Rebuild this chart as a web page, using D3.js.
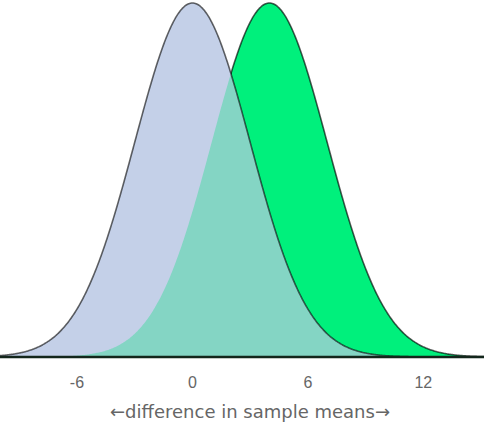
<!DOCTYPE html>
<html>
<head>
<meta charset="utf-8">
<script src="https://cdn.jsdelivr.net/npm/d3@7"></script>
<style>
    body { margin: 0; background: #fff; }
    svg { display: block; }
    .tick-label { font-family: "Liberation Sans", Arial, sans-serif; font-size: 16px; fill: #666; }
    .axis-title { font-family: "DejaVu Sans", Verdana, sans-serif; font-size: 18px; fill: #666; }
</style>
</head>
<body>
<svg id="chart" width="484" height="430"></svg>
<script>
// Distribution parameters.
let groupNames = ['null', 'alternative'];
let groupMeans = [0, 4];
let groupSd = [3, 3];
let groupFills = ['#c4d0e8', '#00f07c'];
let overlapFill = '#84d5c4';

// Axis ticks and title.
let tickValues = [-6, 0, 6, 12];
let axisTitle = '\u2190difference in sample means\u2192';

let width = 484, height = 430;
let baseY = 357;

let xScale = d3.scaleLinear()
    .domain([-10, 15.15])
    .range([0, width]);

let peak = 1 / (groupSd[0] * Math.sqrt(2 * Math.PI));
let yScale = d3.scaleLinear()
    .domain([0, peak])
    .range([baseY, 3]);

// Normal density for group i.
function density(i, x) {
    let z = (x - groupMeans[i]) / groupSd[i];
    return Math.exp(-0.5 * z * z) / (groupSd[i] * Math.sqrt(2 * Math.PI));
}

let xs = d3.range(-10, 15.2, 0.05);

let area = d3.area()
    .x(d => xScale(d.x))
    .y0(baseY)
    .y1(d => yScale(d.y))
    .curve(d3.curveBasis);

let line = d3.line()
    .x(d => xScale(d.x))
    .y(d => yScale(d.y))
    .curve(d3.curveBasis);

let curves = groupNames.map((name, i) => xs.map(x => ({x: x, y: density(i, x)})));
let overlap = xs.map(x => ({x: x, y: Math.min(density(0, x), density(1, x))}));

let svg = d3.select('#chart');

// Alternative (green) first, with its outline.
svg.append('path')
    .attr('d', area(curves[1]))
    .attr('fill', groupFills[1]);
svg.append('path')
    .attr('d', line(curves[1]))
    .attr('fill', 'none')
    .attr('stroke', 'rgba(0,0,0,0.65)')
    .attr('stroke-width', 1.6);

// Null (blue) on top, then the shared region.
svg.append('path')
    .attr('d', area(curves[0]))
    .attr('fill', groupFills[0]);
svg.append('path')
    .attr('d', area(overlap))
    .attr('fill', overlapFill);
svg.append('path')
    .attr('d', line(curves[0]))
    .attr('fill', 'none')
    .attr('stroke', 'rgba(0,0,0,0.6)')
    .attr('stroke-width', 1.6);

// Baseline.
svg.append('line')
    .attr('x1', 0)
    .attr('x2', width)
    .attr('y1', baseY)
    .attr('y2', baseY)
    .attr('stroke', '#13261b')
    .attr('stroke-width', 2.5);

// Tick labels.
svg.append('g')
    .selectAll('text')
    .data(tickValues)
    .join('text')
    .attr('class', 'tick-label')
    .attr('x', d => xScale(d))
    .attr('y', 388)
    .attr('text-anchor', 'middle')
    .text(d => d);

svg.append('text')
    .attr('class', 'axis-title')
    .attr('x', 250)
    .attr('y', 418)
    .attr('text-anchor', 'middle')
    .text(axisTitle);
</script>
</body>
</html>
